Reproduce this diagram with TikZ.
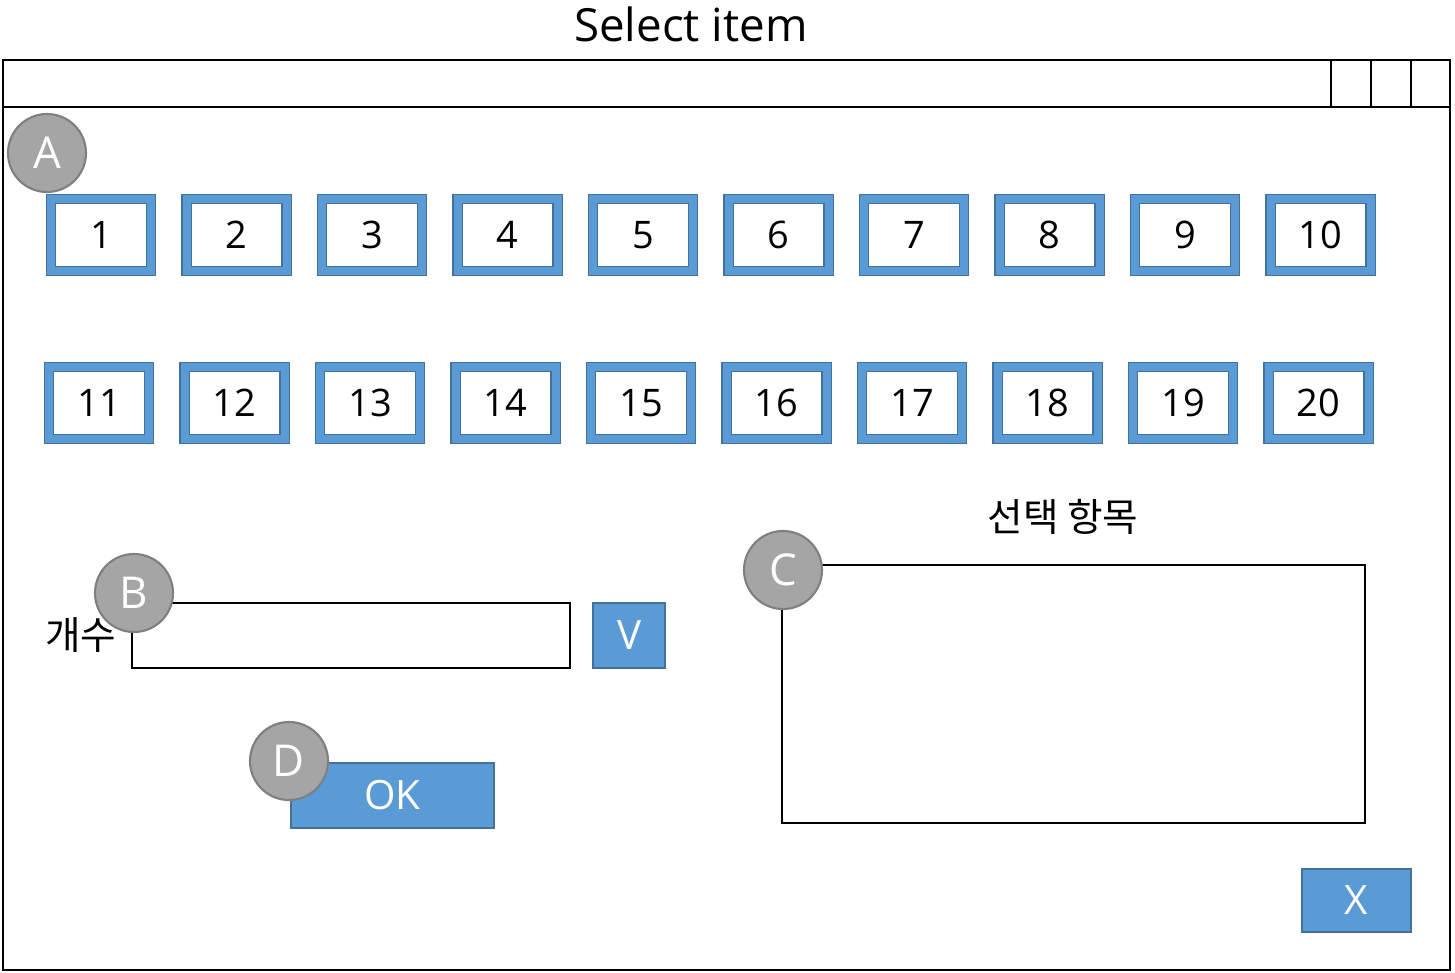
\documentclass[tikz,border=0pt]{standalone}
\usepackage{fontspec}
\setmainfont{Open Sans}
\newfontfamily\kr{Noto Sans CJK KR}
\usetikzlibrary{positioning}
\definecolor{itemblue}{HTML}{5B9BD5}
\definecolor{edgeblue}{HTML}{41719C}
\definecolor{badgegray}{HTML}{A5A5A5}
\definecolor{badgeedge}{HTML}{7F7F7F}
\tikzstyle{window} = [draw=black, line width=0.6pt, rectangle, inner sep=0pt]
\tikzstyle{sysbox} = [rectangle, inner sep=0pt, outer sep=0pt, minimum width=0.40cm, minimum height=0.47cm]
\tikzstyle{item} = [draw=edgeblue, double=itemblue, double distance=0.08cm, line width=0.3pt, fill=white, rectangle, minimum width=1.0cm, minimum height=0.72cm, inner sep=0pt, font=\fontsize{10.8pt}{13pt}\selectfont]
\tikzstyle{button} = [fill=itemblue, draw=edgeblue, line width=0.6pt, rectangle, text=white, inner sep=0pt, font=\fontsize{11.5pt}{13pt}\selectfont]
\tikzstyle{field} = [draw=black, line width=0.6pt, rectangle, inner sep=0pt]
\tikzstyle{badge} = [circle, fill=badgegray, draw=badgeedge, line width=0.6pt, minimum size=0.78cm, inner sep=0pt, text=white, font=\fontsize{12.5pt}{14pt}\selectfont]
\tikzstyle{label} = [inner sep=0pt, font=\kr\fontsize{11pt}{13pt}\selectfont]

\begin{document}
\begin{tikzpicture}
\useasboundingbox (0,0) rectangle (14.55,-9.73);
\node[font=\fontsize{13pt}{15pt}\selectfont] (title) at (6.91,-0.24) {Select item};
\node[window, minimum width=14.47cm, minimum height=9.10cm] (win) at (7.265,-5.15) {};
\node[window, minimum width=14.47cm, minimum height=0.47cm, anchor=north] (bar) at (win.north) {};
\node[sysbox, anchor=north east] (close) at (win.north east) {};
\node[sysbox, left=0pt of close] (max) {};
\node[sysbox, left=0pt of max] (min) {};
\draw[window] (close.north west) -- (close.south west);
\draw[window] (max.north west) -- (max.south west);
\draw[window] (min.north west) -- (min.south west);
\foreach \i in {1,...,10}{
  \pgfmathtruncatemacro\j{\i+10}
  \node[item] (it\i) at ({1.01+1.355*(\i-1)},-2.35) {\i};
  \node[item] (it\j) at ({0.99+1.355*(\i-1)},-4.03) {\j};
}
\node[field, minimum width=4.38cm, minimum height=0.65cm] (count) at (3.51,-6.355) {};
\node[label, left=4pt of count] (countlabel) {개수};
\node[button, minimum width=0.72cm, minimum height=0.65cm, right=0.21cm of count] (drop) {V};
\node[button, minimum width=2.03cm, minimum height=0.65cm] (ok) at (3.925,-7.955) {OK};
\node[label] (selected) at (10.63,-5.17) {선택 항목};
\node[field, minimum width=5.83cm, minimum height=2.58cm] (list) at (10.735,-6.94) {};
\node[button, minimum width=1.09cm, minimum height=0.63cm] (quit) at (13.565,-9.005) {X};
\node[badge] (ba) at (0.47,-1.53) {A};
\node[badge] (bb) at (1.34,-5.93) {B};
\node[badge] (bc) at (7.83,-5.70) {C};
\node[badge] (bd) at (2.89,-7.61) {D};
\end{tikzpicture}
\end{document}
